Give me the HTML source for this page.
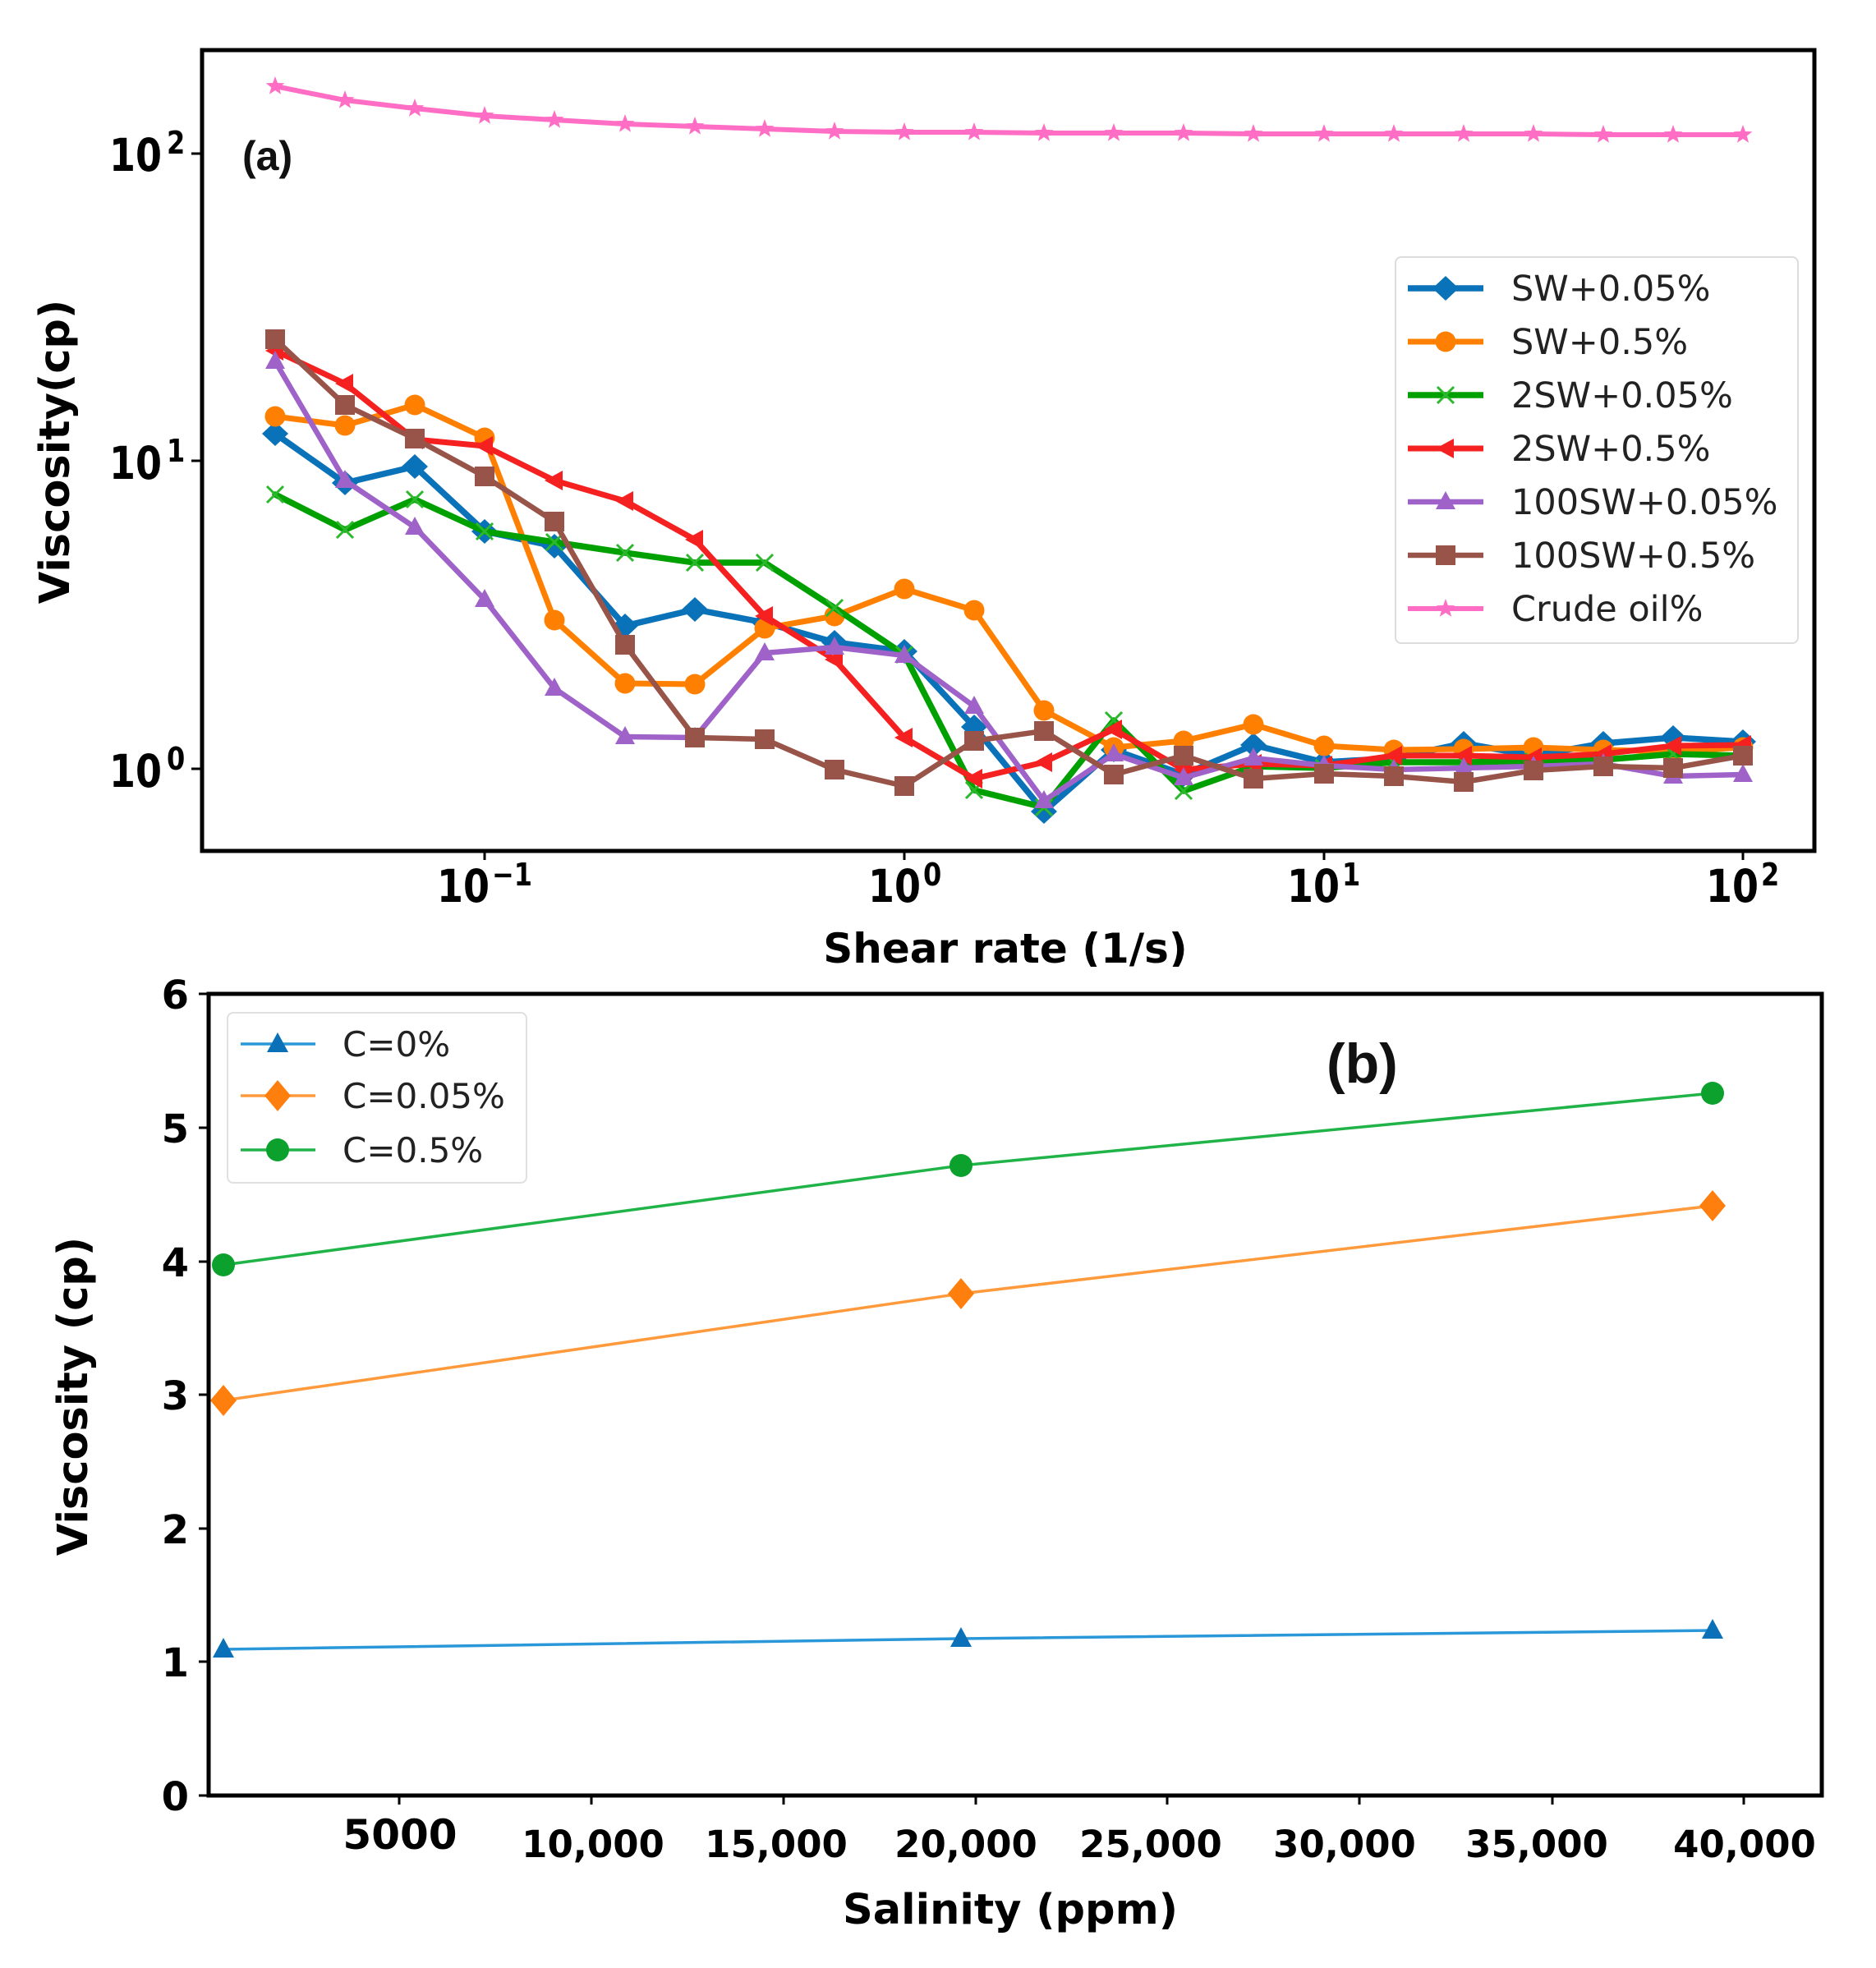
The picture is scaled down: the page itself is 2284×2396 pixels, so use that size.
<!DOCTYPE html>
<html>
<head>
<meta charset="utf-8">
<style>
html,body{margin:0;padding:0;background:#fff;}
svg{display:block;}
.tk{font-family:"DejaVu Sans","Liberation Sans",sans-serif;font-weight:bold;fill:#000;}
.lg{font-family:"DejaVu Sans","Liberation Sans",sans-serif;fill:#222;}
</style>
</head>
<body>
<svg width="2284" height="2396" viewBox="0 0 2284 2396" xmlns="http://www.w3.org/2000/svg">
<defs>
  <marker id="mD" markerUnits="userSpaceOnUse" viewBox="-25 -25 50 50" markerWidth="50" markerHeight="50" refX="0" refY="0" overflow="visible"><path d="M0,-15 L16,0 L0,15 L-16,0 Z" fill="#0a72b8"/></marker>
  <marker id="mO" markerUnits="userSpaceOnUse" viewBox="-25 -25 50 50" markerWidth="50" markerHeight="50" refX="0" refY="0" overflow="visible"><circle r="12.5" fill="#ff8000"/></marker>
  <marker id="mX" markerUnits="userSpaceOnUse" viewBox="-25 -25 50 50" markerWidth="50" markerHeight="50" refX="0" refY="0" overflow="visible"><path d="M-10,-10 L10,10 M-10,10 L10,-10" stroke="#2cb82c" stroke-width="3" fill="none"/></marker>
  <marker id="mL" markerUnits="userSpaceOnUse" viewBox="-25 -25 50 50" markerWidth="50" markerHeight="50" refX="0" refY="0" overflow="visible"><path d="M-12,0 L10,-12 L10,12 Z" fill="#f52020"/></marker>
  <marker id="mU" markerUnits="userSpaceOnUse" viewBox="-25 -25 50 50" markerWidth="50" markerHeight="50" refX="0" refY="0" overflow="visible"><path d="M0,-13 L12,9 L-12,9 Z" fill="#9e62c8"/></marker>
  <marker id="mS" markerUnits="userSpaceOnUse" viewBox="-25 -25 50 50" markerWidth="50" markerHeight="50" refX="0" refY="0" overflow="visible"><rect x="-12" y="-12" width="24" height="24" fill="#985448"/></marker>
  <marker id="mP" markerUnits="userSpaceOnUse" viewBox="-25 -25 50 50" markerWidth="50" markerHeight="50" refX="0" refY="0" overflow="visible"><path d="M0,-12 L2.94,-4.05 L11.41,-3.71 L4.76,1.55 L7.05,9.71 L0,5 L-7.05,9.71 L-4.76,1.55 L-11.41,-3.71 L-2.94,-4.05 Z" fill="#ff6ec4"/></marker>
  <marker id="bT" markerUnits="userSpaceOnUse" viewBox="-25 -25 50 50" markerWidth="50" markerHeight="50" refX="0" refY="0" overflow="visible"><path d="M0,-14 L13,10 L-13,10 Z" fill="#0a70b8"/></marker>
  <marker id="bD" markerUnits="userSpaceOnUse" viewBox="-25 -25 50 50" markerWidth="50" markerHeight="50" refX="0" refY="0" overflow="visible"><path d="M0,-19 L16,0 L0,19 L-16,0 Z" fill="#ff7f0e"/></marker>
  <marker id="bO" markerUnits="userSpaceOnUse" viewBox="-25 -25 50 50" markerWidth="50" markerHeight="50" refX="0" refY="0" overflow="visible"><circle r="14" fill="#0ca02c"/></marker>
</defs>

<!-- ================= PANEL A ================= -->
<g fill="none" stroke-linejoin="round" stroke-linecap="round">
  <polyline stroke="#0a72b8" stroke-width="7.5" marker-start="url(#mD)" marker-mid="url(#mD)" marker-end="url(#mD)"
    points="335,528 420,588 505,568 590,647 675,665 761,762 846,742 931,758 1016,782 1101,793 1186,885 1271,988 1356,913 1441,943 1526,907 1612,928 1697,923 1782,905 1867,920 1952,905 2037,898 2122,903"/>
  <polyline stroke="#ff8000" stroke-width="7" marker-start="url(#mO)" marker-mid="url(#mO)" marker-end="url(#mO)"
    points="335,507 420,518 505,493 590,533 675,755 761,832 846,833 931,765 1016,750 1101,717 1186,743 1271,865 1356,910 1441,902 1526,882 1612,908 1697,913 1782,912 1867,910 1952,913 2037,915 2122,910"/>
  <polyline stroke="#00a000" stroke-width="7.5" marker-start="url(#mX)" marker-mid="url(#mX)" marker-end="url(#mX)"
    points="335,602 420,645 505,608 590,647 675,660 761,673 846,685 931,685 1016,740 1101,797 1186,962 1271,983 1356,877 1441,963 1526,933 1612,935 1697,928 1782,928 1867,927 1952,925 2037,918 2122,920"/>
  <polyline stroke="#f52020" stroke-width="7" marker-start="url(#mL)" marker-mid="url(#mL)" marker-end="url(#mL)"
    points="335,427 420,467 505,535 590,543 675,585 761,610 846,657 931,750 1016,803 1101,898 1186,948 1271,928 1356,888 1441,937 1526,930 1612,932 1697,920 1782,920 1867,922 1952,918 2037,908 2122,907"/>
  <polyline stroke="#9e62c8" stroke-width="6.5" marker-start="url(#mU)" marker-mid="url(#mU)" marker-end="url(#mU)"
    points="335,440 420,585 505,642 590,730 675,838 761,897 846,898 931,795 1016,788 1101,798 1186,860 1271,975 1356,918 1441,947 1526,923 1612,932 1697,937 1782,935 1867,933 1952,930 2037,945 2122,943"/>
  <polyline stroke="#985448" stroke-width="6.5" marker-start="url(#mS)" marker-mid="url(#mS)" marker-end="url(#mS)"
    points="335,413 420,493 505,534 590,580 675,635 761,785 846,898 931,900 1016,937 1101,957 1186,902 1271,890 1356,943 1441,920 1526,948 1612,942 1697,945 1782,952 1867,938 1952,933 2037,935 2122,920"/>
  <polyline stroke="#ff6ec4" stroke-width="6" marker-start="url(#mP)" marker-mid="url(#mP)" marker-end="url(#mP)"
    points="335,105 420,122 505,132 590,141 675,146 761,151 846,154 931,157 1016,160 1101,161 1186,161 1271,162 1356,162 1441,162 1526,163 1612,163 1697,163 1782,163 1867,163 1952,164 2037,164 2122,164"/>
</g>

<!-- frame a -->
<rect x="246" y="61" width="1963" height="975" fill="none" stroke="#000" stroke-width="5"/>
<!-- ticks a -->
<g stroke="#000" stroke-width="3">
  <line x1="233" y1="187" x2="246" y2="187"/>
  <line x1="233" y1="561" x2="246" y2="561"/>
  <line x1="233" y1="936" x2="246" y2="936"/>
  <line x1="590" y1="1036" x2="590" y2="1047"/>
  <line x1="1101" y1="1036" x2="1101" y2="1047"/>
  <line x1="1612" y1="1036" x2="1612" y2="1047"/>
  <line x1="2122" y1="1036" x2="2122" y2="1047"/>
</g>
<!-- y tick labels a -->
<g class="tk">
  <text transform="translate(133,208) scale(1,1.2)" font-size="46">10</text><text transform="translate(203,187) scale(1,1.2)" font-size="32">2</text>
  <text transform="translate(133,583) scale(1,1.2)" font-size="46">10</text><text transform="translate(203,562) scale(1,1.2)" font-size="32">1</text>
  <text transform="translate(133,958) scale(1,1.2)" font-size="46">10</text><text transform="translate(203,937) scale(1,1.2)" font-size="32">0</text>
</g>
<!-- x tick labels a -->
<g class="tk">
  <text transform="translate(532,1098) scale(1,1.2)" font-size="46">10</text><text transform="translate(599,1078) scale(1,1.2)" font-size="32">−1</text>
  <text transform="translate(1057,1098) scale(1,1.2)" font-size="46">10</text><text transform="translate(1124,1078) scale(1,1.2)" font-size="32">0</text>
  <text transform="translate(1567,1098) scale(1,1.2)" font-size="46">10</text><text transform="translate(1634,1078) scale(1,1.2)" font-size="32">1</text>
  <text transform="translate(2077,1098) scale(1,1.2)" font-size="46">10</text><text transform="translate(2144,1078) scale(1,1.2)" font-size="32">2</text>
</g>
<text x="295" y="207" font-family="Liberation Sans, Arial, sans-serif" font-weight="bold" font-size="50" fill="#111">(a)</text>
<text class="tk" transform="translate(84,550) rotate(-90)" text-anchor="middle" font-size="51">Viscosity(cp)</text>
<text class="tk" x="1224" y="1172" text-anchor="middle" font-size="50">Shear rate (1/s)</text>
<rect x="960" y="1177" width="520" height="22" fill="#fff"/>

<!-- legend a -->
<rect x="1699" y="313" width="490" height="470" rx="7" fill="#fff" fill-opacity="0.85" stroke="#dcdcdc" stroke-width="2"/>
<g fill="none">
  <polyline points="1714,351 1760,351 1806,351" stroke="#0a72b8" stroke-width="7.5" marker-mid="url(#mD)"/>
  <polyline points="1714,416 1760,416 1806,416" stroke="#ff8000" stroke-width="7" marker-mid="url(#mO)"/>
  <polyline points="1714,481 1760,481 1806,481" stroke="#00a000" stroke-width="7.5" marker-mid="url(#mX)"/>
  <polyline points="1714,546 1760,546 1806,546" stroke="#f52020" stroke-width="7" marker-mid="url(#mL)"/>
  <polyline points="1714,611 1760,611 1806,611" stroke="#9e62c8" stroke-width="6.5" marker-mid="url(#mU)"/>
  <polyline points="1714,676 1760,676 1806,676" stroke="#985448" stroke-width="6.5" marker-mid="url(#mS)"/>
  <polyline points="1714,741 1760,741 1806,741" stroke="#ff6ec4" stroke-width="6" marker-mid="url(#mP)"/>
</g>
<g class="lg" font-size="43">
  <text x="1840" y="366">SW+0.05%</text>
  <text x="1840" y="431">SW+0.5%</text>
  <text x="1840" y="496">2SW+0.05%</text>
  <text x="1840" y="561">2SW+0.5%</text>
  <text x="1840" y="626">100SW+0.05%</text>
  <text x="1840" y="691">100SW+0.5%</text>
  <text x="1840" y="756">Crude oil%</text>
</g>

<!-- ================= PANEL B ================= -->
<g fill="none" stroke-linejoin="round">
  <polyline stroke="#2a98d8" stroke-width="3.5" marker-start="url(#bT)" marker-mid="url(#bT)" marker-end="url(#bT)" points="272,2008 1170,1995 2085,1985"/>
  <polyline stroke="#ff9a3c" stroke-width="3.5" marker-start="url(#bD)" marker-mid="url(#bD)" marker-end="url(#bD)" points="272,1705 1170,1575 2085,1468"/>
  <polyline stroke="#20b448" stroke-width="3.5" marker-start="url(#bO)" marker-mid="url(#bO)" marker-end="url(#bO)" points="272,1540 1170,1419 2085,1331"/>
</g>
<rect x="254" y="1210" width="1964" height="976" fill="none" stroke="#000" stroke-width="5"/>
<g stroke="#000" stroke-width="3">
  <line x1="242" y1="1210" x2="254" y2="1210"/>
  <line x1="242" y1="1373" x2="254" y2="1373"/>
  <line x1="242" y1="1536" x2="254" y2="1536"/>
  <line x1="242" y1="1698" x2="254" y2="1698"/>
  <line x1="242" y1="1861" x2="254" y2="1861"/>
  <line x1="242" y1="2023" x2="254" y2="2023"/>
  <line x1="242" y1="2186" x2="254" y2="2186"/>
  <line x1="486" y1="2186" x2="486" y2="2197"/>
  <line x1="720" y1="2186" x2="720" y2="2197"/>
  <line x1="954" y1="2186" x2="954" y2="2197"/>
  <line x1="1188" y1="2186" x2="1188" y2="2197"/>
  <line x1="1421" y1="2186" x2="1421" y2="2197"/>
  <line x1="1655" y1="2186" x2="1655" y2="2197"/>
  <line x1="1890" y1="2186" x2="1890" y2="2197"/>
  <line x1="2123" y1="2186" x2="2123" y2="2197"/>
</g>
<g class="tk" font-size="48" text-anchor="end">
  <text x="230" y="1228">6</text>
  <text x="230" y="1391">5</text>
  <text x="230" y="1554">4</text>
  <text x="230" y="1716">3</text>
  <text x="230" y="1879">2</text>
  <text x="230" y="2041">1</text>
  <text x="230" y="2204">0</text>
</g>
<g class="tk" text-anchor="middle">
  <text x="487" y="2251" font-size="50">5000</text>
  <text x="722" y="2261" font-size="45">10,000</text>
  <text x="945" y="2261" font-size="45">15,000</text>
  <text x="1176" y="2261" font-size="45">20,000</text>
  <text x="1401" y="2261" font-size="45">25,000</text>
  <text x="1637" y="2261" font-size="45">30,000</text>
  <text x="1871" y="2261" font-size="45">35,000</text>
  <text x="2124" y="2261" font-size="45">40,000</text>
</g>
<text x="1615" y="1318" font-family="Liberation Sans, Arial, sans-serif" font-weight="bold" font-size="68" fill="#111">(b)</text>
<text class="tk" transform="translate(106,1700) rotate(-90)" text-anchor="middle" font-size="51">Viscosity (cp)</text>
<text class="tk" x="1230" y="2342" text-anchor="middle" font-size="51">Salinity (ppm)</text>

<!-- legend b -->
<rect x="277" y="1233" width="364" height="207" rx="7" fill="#fff" fill-opacity="0.85" stroke="#e0e0e0" stroke-width="2"/>
<g fill="none">
  <polyline points="293,1271 338,1271 384,1271" stroke="#2a98d8" stroke-width="3.5" marker-mid="url(#bT)"/>
  <polyline points="293,1334 338,1334 384,1334" stroke="#ff9a3c" stroke-width="3.5" marker-mid="url(#bD)"/>
  <polyline points="293,1400 338,1400 384,1400" stroke="#20b448" stroke-width="3.5" marker-mid="url(#bO)"/>
</g>
<g class="lg" font-size="42">
  <text x="417" y="1286">C=0%</text>
  <text x="417" y="1349">C=0.05%</text>
  <text x="417" y="1415">C=0.5%</text>
</g>
</svg>
</body>
</html>
